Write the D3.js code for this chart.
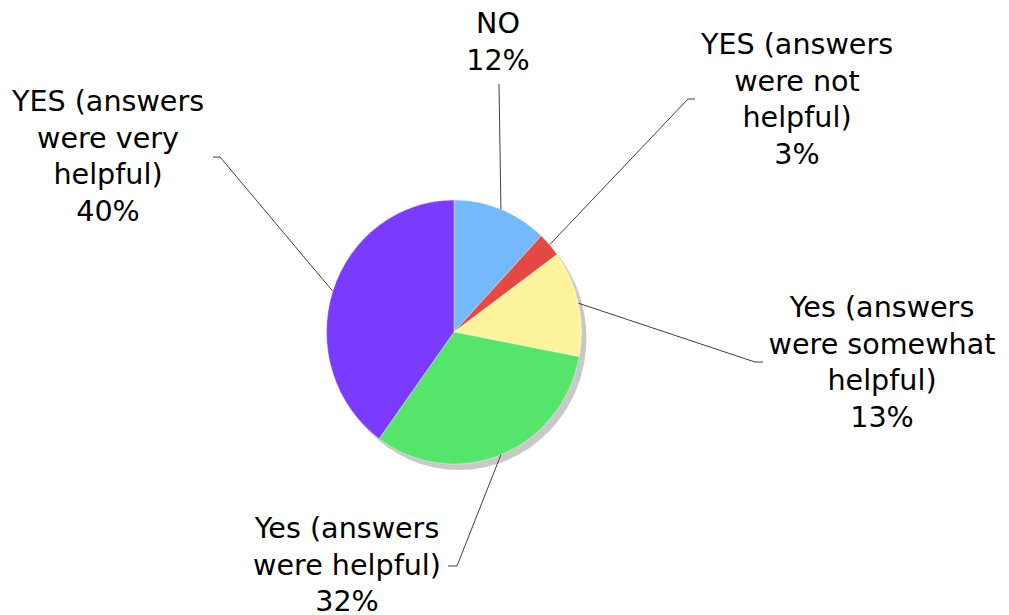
<!DOCTYPE html>
<html>
<head>
<meta charset="utf-8">
<script src="https://cdn.jsdelivr.net/npm/d3@7"></script>
<style>
  body { margin: 0; background: #fff; }
  text { font-family: "DejaVu Sans", Verdana, sans-serif; font-size: 28.6px; fill: #000; }
</style>
</head>
<body>
<div id="chart"></div>
<script>
// data
const categories = [
  "NO",
  "YES (answers were not helpful)",
  "Yes (answers were somewhat helpful)",
  "Yes (answers were helpful)",
  "YES (answers were very helpful)"
];
const percents = [12, 3, 13, 32, 40];
const labelLines = [
  ["NO", "12%"],
  ["YES (answers", "were not", "helpful)", "3%"],
  ["Yes (answers", "were somewhat", "helpful)", "13%"],
  ["Yes (answers", "were helpful)", "32%"],
  ["YES (answers", "were very", "helpful)", "40%"]
];
const colors = ["#74b9fb", "#e44a43", "#fff49c", "#56e56b", "#7a3bff"];

// layout
const width = 1009, height = 615;
const cx = 454, cy = 332, rx = 127.5, ry = 132;
const lineH = 36.7;
// label anchor (centre x, first baseline), leader elbow and end
const labelPos = [
  {x: 498, y: 33,  elbow: [499, 84],  end: [499, 84]},
  {x: 797, y: 54,  elbow: [688, 99],  end: [695, 99]},
  {x: 882, y: 317, elbow: [755, 362], end: [763, 362]},
  {x: 347, y: 538, elbow: [457, 566], end: [448, 566]},
  {x: 108, y: 111, elbow: [220, 157], end: [213, 157]}
];

const svg = d3.select("#chart").append("svg")
  .attr("width", width)
  .attr("height", height);

const pie = d3.pie().sort(null).value(d => d);
const arcs = pie(percents);
const arc = d3.arc().innerRadius(0).outerRadius(rx);

// shadow
svg.append("ellipse")
  .attr("cx", cx + 5)
  .attr("cy", cy + 6)
  .attr("rx", rx)
  .attr("ry", ry)
  .attr("fill", "#c9c9c9");

const g = svg.append("g")
  .attr("transform", `translate(${cx},${cy}) scale(1,${ry / rx})`);

g.selectAll("path")
  .data(arcs)
  .enter()
  .append("path")
    .attr("d", arc)
    .attr("fill", (d, i) => colors[i])
    .attr("stroke", "#ffffff")
    .attr("stroke-opacity", 0.6)
    .attr("stroke-width", 0.6);

// leader lines
svg.selectAll("polyline.leader")
  .data(arcs)
  .enter()
  .append("polyline")
    .attr("class", "leader")
    .attr("fill", "none")
    .attr("stroke", "#404040")
    .attr("stroke-width", 1)
    .attr("points", (d, i) => {
      const a = (d.startAngle + d.endAngle) / 2;
      const sx = cx + rx * Math.sin(a);
      const sy = cy - ry * Math.cos(a);
      const p = labelPos[i];
      return [[sx, sy], p.elbow, p.end].map(q => q.join(",")).join(" ");
    });

// labels
const labels = svg.selectAll("text.label")
  .data(categories)
  .enter()
  .append("text")
    .attr("class", "label")
    .attr("text-anchor", "middle")
    .attr("x", (d, i) => labelPos[i].x)
    .attr("y", (d, i) => labelPos[i].y);

labels.each(function(d, i) {
  d3.select(this).selectAll("tspan")
    .data(labelLines[i])
    .enter()
    .append("tspan")
      .attr("x", labelPos[i].x)
      .attr("y", (t, j) => labelPos[i].y + j * lineH)
      .text(t => t);
});
</script>
</body>
</html>
